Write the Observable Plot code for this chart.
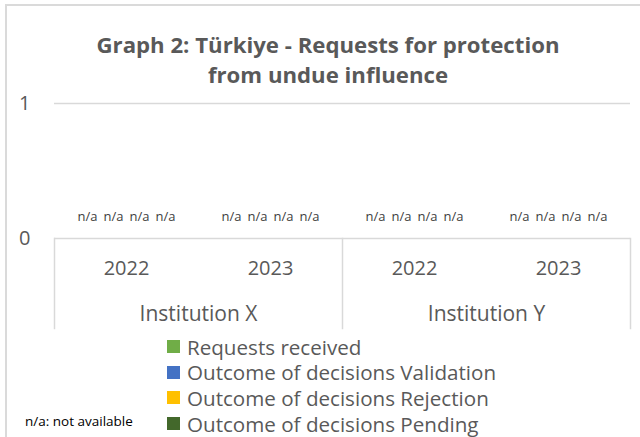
<!DOCTYPE html>
<html>
<head>
<meta charset="utf-8">
<script src="https://cdn.jsdelivr.net/npm/d3@7"></script>
<script src="https://cdn.jsdelivr.net/npm/@observablehq/plot@0.6"></script>
<style>
html, body { margin: 0; padding: 0; background: #fff; }
#wrap { position: relative; width: 640px; height: 437px; overflow: hidden; background: #fff; font-family: "Open Sans", sans-serif; }
#border { position: absolute; left: 5px; top: 4px; width: 700px; height: 600px; border: 2px solid #dadada; box-sizing: border-box; }
#title { position: absolute; left: 0; top: 30px; width: 656px; text-align: center; font-weight: bold; font-size: 22.2px; line-height: 30px; color: #595959; }
#chart { position: absolute; left: 0; top: 85px; }
#legend { position: absolute; left: 167px; top: 334px; }
#legend .lg-swatches { margin: 0; font-family: "Open Sans", sans-serif; font-size: 20.6px; color: #595959; }
#legend .lg-swatch { height: 25.6px; padding: 0; margin: 0; display: flex; align-items: center; }
#legend .lg-swatch svg { margin-right: 7px; }
#note { position: absolute; left: 25px; top: 411px; font-size: 13.5px; color: #000; line-height: 20px; }
</style>
</head>
<body>
<div id="wrap">
  <div id="border"></div>
  <div id="title">Graph 2: Türkiye - Requests for protection<br>from undue influence</div>
  <div id="chart"></div>
  <div id="legend"></div>
  <div id="note">n/a: not available</div>
</div>
<script>
// ---- data ----
const institutions = ["Institution X", "Institution Y"];
const years = ["2022", "2023"];
const series = [
  "Requests received",
  "Outcome of decisions Validation",
  "Outcome of decisions Rejection",
  "Outcome of decisions Pending"
];
const seriesColors = ["#70AD47", "#4472C4", "#FFC000", "#43682B"];
// values per (institution, year): X-2022, X-2023, Y-2022, Y-2023 (null = not available)
const requestsReceived = [null, null, null, null];
const validation = [null, null, null, null];
const rejection = [null, null, null, null];
const pending = [null, null, null, null];
const yTicks = [0, 1];
const naLabel = "n/a";

const seriesValues = [requestsReceived, validation, rejection, pending];
const rows = [];
institutions.forEach((inst, i) => years.forEach((yr, j) => series.forEach((s, k) => {
  rows.push({institution: inst, year: yr, series: s, value: seriesValues[k][i * years.length + j]});
})));

const grid = "#d9d9d9";
const chart = Plot.plot({
  width: 640,
  height: 250,
  marginTop: 18,
  marginBottom: 97,
  marginLeft: 54,
  marginRight: 10,
  style: {fontFamily: "Open Sans", fontSize: "20px", color: "#595959", background: "transparent", overflow: "visible"},
  fx: {type: "band", domain: institutions, padding: 0, label: null},
  x: {type: "band", domain: years, padding: 0, label: null},
  y: {domain: [0, 1], label: null},
  marks: [
    Plot.ruleY(yTicks, {stroke: grid, strokeWidth: 1.5}),
    Plot.frame({anchor: "left", stroke: grid, strokeWidth: 1.5, insetTop: 135, insetBottom: -90}),
    Plot.frame({anchor: "right", facetAnchor: "right", stroke: grid, strokeWidth: 1.5, insetTop: 135, insetBottom: -90}),
    ...series.map((s, k) => Plot.text(rows.filter(d => d.series === s), {
      fx: "institution", x: "year", y: 0,
      text: d => d.value == null ? naLabel : d.value,
      dx: (k - 1.5) * 26, dy: -22,
      fontSize: 13, fill: "#404040"
    })),
    Plot.axisY({ticks: yTicks, tickSize: 0, tickPadding: 24, tickFormat: d3.format("d"), fontSize: 20, label: null}),
    Plot.axisX({anchor: "bottom", tickSize: 0, tickPadding: 22, fontSize: 20, label: null}),
    Plot.axisFx({anchor: "bottom", tickSize: 0, tickPadding: 68, fontSize: 21, label: null})
  ]
});
document.getElementById("chart").appendChild(chart);

const legend = Plot.legend({
  color: {type: "ordinal", domain: series, range: seriesColors},
  legend: "swatches",
  columns: 1,
  swatchSize: 13,
  className: "lg"
});
document.getElementById("legend").appendChild(legend);
</script>
</body>
</html>
